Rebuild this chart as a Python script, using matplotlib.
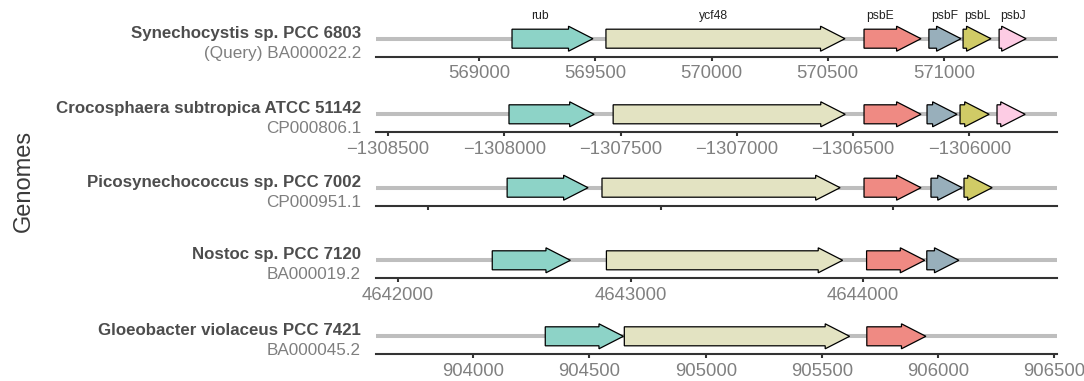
import matplotlib
matplotlib.use("Agg")
import matplotlib.pyplot as plt
from matplotlib.patches import Polygon
from matplotlib.ticker import MultipleLocator, FuncFormatter, NullFormatter

plt.rcParams['font.family'] = ['Liberation Sans', 'DejaVu Sans']

# ---------------- data ----------------
genomes = ["Synechocystis sp. PCC 6803", "Crocosphaera subtropica ATCC 51142",
           "Picosynechococcus sp. PCC 7002", "Nostoc sp. PCC 7120",
           "Gloeobacter violaceus PCC 7421"]
accessions = ["(Query) BA000022.2", "CP000806.1", "CP000951.1",
              "BA000019.2", "BA000045.2"]
region_start = [568557, -1308552, 776, 4641905, 903582]
region_span = 2929
tick_step = [500, 500, 1000, 1000, 500]
tick_labels_shown = [True, True, False, True, True]

gene_names = ["rub", "ycf48", "psbE", "psbF", "psbL", "psbJ"]
gene_colors = ["#8DD3C7", "#E3E3C2", "#EF8A83", "#98AFBB", "#D0CB66", "#FDCCE4"]

syn_start = [569142, 569546, 570656, 570935, 571082, 571237]
syn_end = [569490, 570574, 570901, 571073, 571202, 571353]
cro_start = [-1307980, -1307532, -1306453, -1306182, -1306040, -1305881]
cro_end = [-1307614, -1306534, -1306208, -1306053, -1305915, -1305760]
pic_start = [1340, 1748, 2875, 3163, 3305]
pic_end = [1688, 2772, 3120, 3297, 3426]
nos_start = [4642405, 4642896, 4644015, 4644274]
nos_end = [4642741, 4643912, 4644265, 4644412]
glo_start = [904310, 904650, 905693]
glo_end = [904646, 905619, 905947]

gene_starts = [syn_start, cro_start, pic_start, nos_start, glo_start]
gene_ends = [syn_end, cro_end, pic_end, nos_end, glo_end]
label_row = 0

# ---------------- layout ----------------
W, H = 1084, 381
fig = plt.figure(figsize=(W / 100, H / 100), dpi=100)
ax_left, ax_right = 376, 1057
spine_px = [56.7, 132.3, 205.7, 278.3, 354.3]
ax_h = 40
gene_y = 18
body_half, head_half = 9.5, 12.5
head_bp = 105

def fmt(v, pos):
    return f"{v:.0f}".replace("-", "\u2212")

for i, name in enumerate(genomes):
    sp = spine_px[i]
    ax = fig.add_axes([ax_left / W, 1 - sp / H, (ax_right - ax_left) / W, ax_h / H])
    x0 = region_start[i]
    ax.set_xlim(x0, x0 + region_span)
    ax.set_ylim(0, ax_h)
    for s in ["top", "right", "left"]:
        ax.spines[s].set_visible(False)
    ax.spines["bottom"].set_color("#333333")
    ax.spines["bottom"].set_linewidth(1.5)
    ax.set_yticks([])
    ax.xaxis.set_major_locator(MultipleLocator(tick_step[i]))
    if tick_labels_shown[i]:
        ax.xaxis.set_major_formatter(FuncFormatter(fmt))
    else:
        ax.xaxis.set_major_formatter(NullFormatter())
    ax.tick_params(axis="x", length=3.2, width=1.5, color="#333333",
                   labelsize=13.3, labelcolor="#808080", pad=2.8)
    ax.patch.set_alpha(0)

    ax.axhline(gene_y, color="#BEBEBE", lw=2.9, zorder=1)

    for j, (s, e) in enumerate(zip(gene_starts[i], gene_ends[i])):
        hl = min(head_bp, e - s)
        pts = [(s, gene_y - body_half), (e - hl, gene_y - body_half),
               (e - hl, gene_y - head_half), (e, gene_y),
               (e - hl, gene_y + head_half), (e - hl, gene_y + body_half),
               (s, gene_y + body_half)]
        ax.add_patch(Polygon(pts, closed=True, facecolor=gene_colors[j],
                             edgecolor="black", lw=0.9, zorder=3,
                             joinstyle="miter", clip_on=False))
        if i == label_row:
            if e - s > 2 * head_bp:
                lx = (s + e - head_bp) / 2
            else:
                lx = (s + e) / 2
            ax.text(lx, gene_y + 22.7, gene_names[j], ha="center", va="center",
                    fontsize=8.7, color="#222222", clip_on=False)

    gy = sp - gene_y
    fig.text(361 / W, 1 - (gy - 5.5) / H, name, ha="right", va="center",
             fontsize=12.2, fontweight="bold", color="#4D4D4D")
    fig.text(361 / W, 1 - (gy + 14.5) / H, accessions[i], ha="right", va="center",
             fontsize=12.3, color="#7F7F7F")

fig.text(24 / W, 1 - 181 / H, "Genomes", rotation=90, ha="center", va="center",
         fontsize=17, color="#3a3a3a")

fig.savefig("out.png", dpi=100)
